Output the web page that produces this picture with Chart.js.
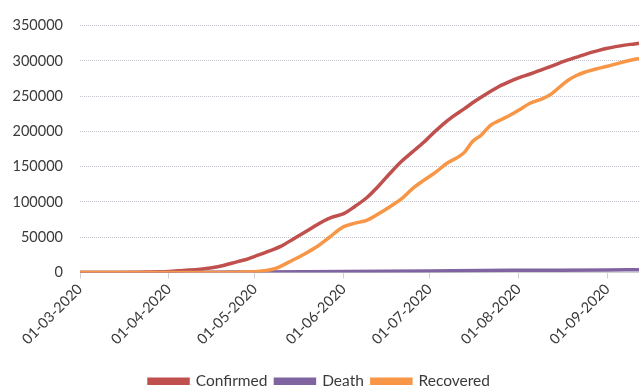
<!DOCTYPE html>
<html>
<head>
<meta charset="utf-8">
<script src="https://cdn.jsdelivr.net/npm/chart.js@4.4.1/dist/chart.umd.min.js"></script>
<style>
  html, body { margin: 0; padding: 0; background: #ffffff; overflow: hidden; }
  #wrap { width: 639px; height: 399px; position: relative; }
</style>
</head>
<body>
<div id="wrap"><canvas id="chart"></canvas></div>
<script>
// Month-start ticks: label text and day offset from 01-03-2020
const monthLabels = ['01-03-2020', '01-04-2020', '01-05-2020', '01-06-2020', '01-07-2020', '01-08-2020', '01-09-2020'];
const monthDays = [0, 31, 61, 92, 122, 153, 184];
const lastDay = 195;

// Confirmed cases (day offset, cumulative count)
const confirmedDays = [0, 10, 20, 25, 31, 36, 42, 46, 50, 55, 58, 61, 65, 70, 75, 80, 85, 88, 92, 96, 100, 104, 108, 112, 116, 120, 122, 126, 130, 134, 138, 142, 146, 150, 153, 157, 161, 165, 169, 173, 177, 181, 184, 188, 192, 195];
const confirmed = [0, 0, 200, 800, 1500, 3000, 4700, 6800, 10000, 15500, 18500, 23000, 29000, 37000, 49000, 61000, 73000, 78500, 83500, 94000, 106000, 122000, 140000, 157000, 171000, 185000, 193000, 208000, 221000, 232000, 243500, 254000, 263500, 271000, 276000, 281500, 287500, 293500, 299700, 305000, 310500, 315000, 318000, 321000, 323500, 325000];

// Deaths
const deathDays = [0, 31, 45, 61, 92, 122, 141, 153, 184, 195];
const death = [0, 50, 300, 800, 1500, 2300, 2900, 3100, 3600, 3800];

// Recovered
const recoveredDays = [0, 40, 55, 62, 64, 66, 69, 73, 78, 83, 87, 92, 96, 100, 104, 108, 112, 116, 120, 124, 128, 132, 134, 137, 140, 143, 146, 150, 153, 157, 161, 164, 167, 170, 173, 176, 180, 184, 188, 192, 195];
const recovered = [0, 0, 500, 1500, 2400, 3500, 7000, 15000, 25500, 37500, 50000, 65000, 70000, 74000, 83000, 93000, 104000, 119000, 131000, 142000, 155000, 164000, 170000, 186000, 195000, 208000, 215000, 223000, 230000, 240000, 246000, 252000, 262000, 272000, 279000, 284000, 288500, 292500, 297000, 301000, 303500];

const pairs = (xs, ys) => xs.map((x, i) => ({ x: x, y: ys[i] }));

const FONT = 'Lato, "Open Sans", sans-serif';
const TEXT = '#3a3a3a';

function series(label, xs, ys, color, order) {
  return {
    label: label,
    data: pairs(xs, ys),
    borderColor: color,
    backgroundColor: color,
    borderWidth: 3.5,
    pointRadius: 0,
    cubicInterpolationMode: 'monotone',
    fill: false,
    order: order
  };
}

new Chart(document.getElementById('chart'), {
  type: 'line',
  data: {
    datasets: [
      series('Confirmed', confirmedDays, confirmed, '#C0504D', 3),
      series('Death', deathDays, death, '#8064A2', 2),
      series('Recovered', recoveredDays, recovered, '#F79646', 1)
    ]
  },
  options: {
    responsive: true,
    maintainAspectRatio: false,
    animation: false,
    layout: { padding: { top: 20, right: 0, bottom: 0, left: 0 } },
    plugins: {
      tooltip: { enabled: false },
      legend: {
        position: 'bottom',
        labels: {
          boxWidth: 39,
          boxHeight: 4,
          padding: 8,
          color: TEXT,
          font: { family: FONT, size: 15.5 },
          sort: (a, b) => a.datasetIndex - b.datasetIndex
        }
      }
    },
    scales: {
      x: {
        type: 'linear',
        min: 0,
        max: lastDay,
        afterBuildTicks: (scale) => {
          scale.ticks = monthDays.map(v => ({ value: v }));
        },
        afterFit: (scale) => { scale.height = 93; },
        ticks: {
          autoSkip: false,
          minRotation: 45,
          maxRotation: 45,
          padding: 2,
          color: TEXT,
          font: { family: FONT, size: 14.5 },
          callback: (value, index) => monthLabels[index]
        },
        grid: {
          drawOnChartArea: false,
          drawTicks: true,
          tickLength: 6,
          color: '#d0d0d0'
        },
        border: { display: true, color: '#d0d0d0', width: 1 }
      },
      y: {
        min: 0,
        max: 350000,
        afterFit: (scale) => { scale.width = 80; },
        ticks: {
          stepSize: 50000,
          padding: 17,
          color: TEXT,
          font: { family: FONT, size: 14.5 },
          callback: (value) => String(value)
        },
        grid: {
          drawTicks: false,
          color: '#c4c4cc',
          lineWidth: 1
        },
        border: { display: false, dash: [1, 1] }
      }
    }
  }
});
</script>
</body>
</html>
